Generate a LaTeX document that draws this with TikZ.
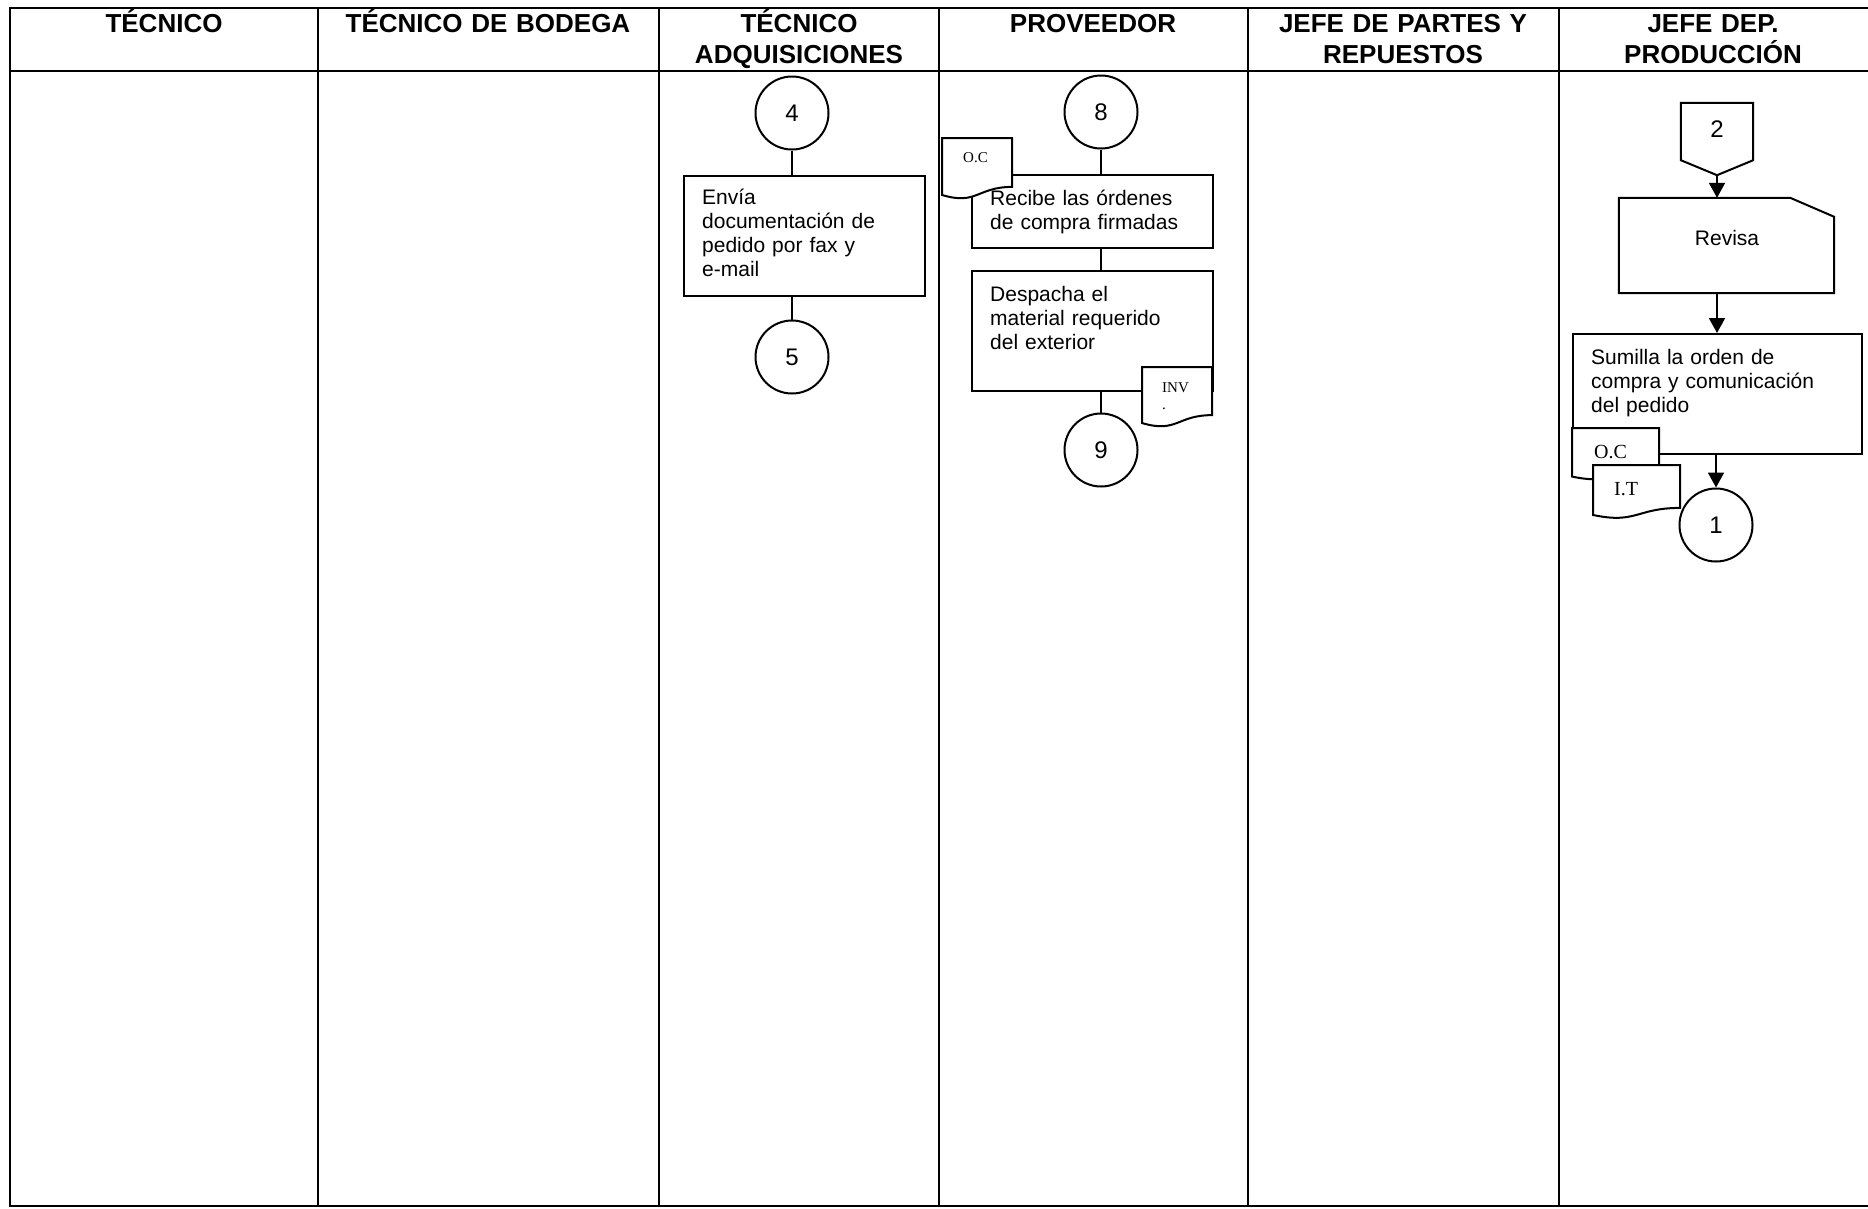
\documentclass[tikz,border=0pt]{standalone}
\usepackage{fontspec}
\setmainfont{Liberation Sans}
\newfontfamily\docfont{Liberation Serif}
\usetikzlibrary{arrows.meta,calc}
\newcommand{\docsym}[5]{%
  \draw[shp,fill=white] (#1,#2) -- ({#1+#3},#2) -- ({#1+#3},{#2+0.802*#4})
    .. controls ({#1+0.5*#3},{#2+0.802*#4}) and ({#1+0.5*#3},{#2+1.107*#4}) .. (#1,{#2+0.934*#4}) -- cycle;
  \coordinate (#5) at ({#1+0.5*#3},{#2+0.4*#4});
}
\begin{document}
\begin{tikzpicture}[x=1pt,y=-1pt,
  grid/.style={line width=2.4pt},
  shp/.style={line width=2pt},
  hdr/.style={font=\fontsize{26}{31}\selectfont\bfseries, align=center, anchor=base, inner sep=0, text width=300pt},
  txt/.style={font=\fontsize{21}{24}\selectfont, align=left, anchor=base west, inner sep=0, text width=250pt},
  boxn/.style={shp, draw, fill=white, rectangle, anchor=north west, inner sep=0},
  conn/.style={shp, draw, circle, fill=white, minimum size=73pt, inner sep=0, font=\fontsize{24}{24}\selectfont},
  arr/.style={shp, -{Triangle[length=15pt,width=16pt]}},
  doct/.style={font=\docfont\fontsize{15}{17}\selectfont, inner sep=0, align=left, anchor=base west, text width=40pt},
  docb/.style={font=\docfont\fontsize{20}{22}\selectfont, inner sep=0, anchor=base west}
]
\useasboundingbox (0,0) rectangle (1868,1208);
\fill[white] (0,0) rectangle (1868,1208);

% table
\draw[grid] (1868,8) -- (10,8) -- (10,1206) -- (1868,1206);
\draw[grid] (10,71) -- (1868,71);
\foreach \cx in {318,659,939,1248,1559} {\draw[grid] (\cx,8) -- (\cx,1206);}

% headers
\node[hdr] (h1) at (164,32) {TÉCNICO};
\node[hdr] (h2) at (488,32) {TÉCNICO DE BODEGA};
\node[hdr] (h3) at (799,32) {TÉCNICO\\ADQUISICIONES};
\node[hdr] (h4) at (1093,32) {PROVEEDOR};
\node[hdr] (h5) at (1403,32) {JEFE DE PARTES Y\\REPUESTOS};
\node[hdr] (h6) at (1713,32) {JEFE DEP.\\PRODUCCIÓN};

% Tecnico adquisiciones
\node[conn] (c4) at (792,113) {4};
\node[boxn, minimum width=241pt, minimum height=120pt] (b1) at (683,175) {};
\node[txt] (b1t) at ($(b1.north west)+(19,29)$) {Envía\\documentación de\\pedido por fax y\\e-mail};
\node[conn] (c5) at (792,357) {5};
\draw[shp] (c4.south) -- (c4.south |- b1.north);
\draw[shp] (b1.south -| c5.north) -- (c5.north);

% Proveedor
\node[conn] (c8) at (1101,112) {8};
\node[boxn, minimum width=241pt, minimum height=73pt] (b2) at (971,174) {};
\docsym{942}{138}{70}{61}{d1}
\node[doct] (d1t) at (963,162) {O.C};
\node[txt] (b2t) at ($(b2.north west)+(19,31)$) {Recibe las órdenes\\de compra firmadas};
\node[boxn, minimum width=241pt, minimum height=120pt] (b3) at (971,270) {};
\docsym{1142}{367}{70}{60}{d2}
\node[doct] (d2t) at (1162,392) {INV\\.};
\node[txt] (b3t) at ($(b3.north west)+(19,31)$) {Despacha el\\material requerido\\del exterior};
\node[conn] (c9) at (1101,450) {9};
\draw[shp] (c8.south) -- (c8.south |- b2.north);
\draw[shp] (b2.south -| c8.south) -- (b3.north -| c8.south);
\draw[shp] (b3.south -| c9.north) -- (c9.north);

% Jefe dep. produccion
\node[inner sep=0, minimum width=72pt, minimum height=72pt] (c2) at (1717,139) {};
\draw[shp, fill=white] (c2.north west) -- (c2.north east) -- ([yshift=15pt]c2.south east) -- (c2.south) -- ([yshift=15pt]c2.south west) -- cycle;
\node[font=\fontsize{24}{24}\selectfont, inner sep=0] (c2t) at (1717,129) {2};

\node[inner sep=0, minimum width=215pt, minimum height=95pt] (rev) at (1726.5,245.5) {};
\draw[shp, fill=white] (rev.north west) -- ([xshift=-44pt]rev.north east) -- ([yshift=-19pt]rev.north east) -- (rev.south east) -- (rev.south west) -- cycle;
\node[font=\fontsize{21}{24}\selectfont, anchor=base, inner sep=0] (revt) at (1727,245) {Revisa};

\node[boxn, minimum width=289pt, minimum height=120pt] (b4) at (1572,333) {};
\docsym{1572}{428}{87}{52}{d3}
\docsym{1593}{465}{87}{53.5}{d4}
\node[docb] (d3t) at (1594,458) {O.C};
\node[docb] (d4t) at (1614,495) {I.T};
\node[txt] (b4t) at ($(b4.north west)+(19,31)$) {Sumilla la orden de\\compra y comunicación\\del pedido};
\node[conn] (c1) at (1716,525) {1};

\draw[arr] (c2.south) -- (rev.north -| c2.south);
\draw[arr] (rev.south -| c2.south) -- (b4.north -| c2.south);
\draw[arr] (b4.south -| c1.north) -- (c1.north);
\end{tikzpicture}
\end{document}
